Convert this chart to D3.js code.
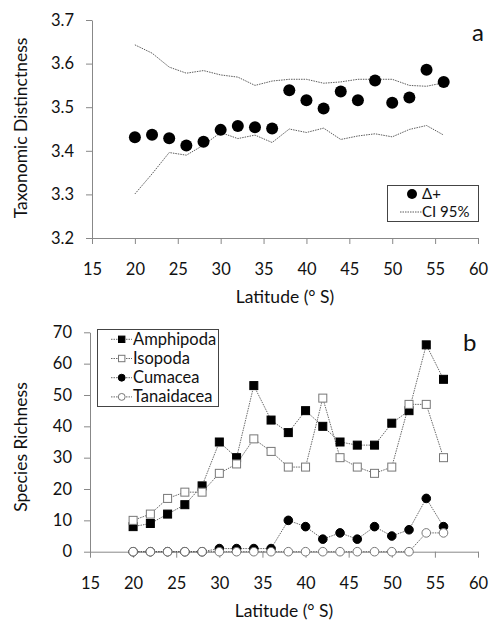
<!DOCTYPE html>
<html>
<head>
<meta charset="utf-8">
<script src="https://cdn.jsdelivr.net/npm/d3@7"></script>
<style>
body { margin: 0; background: #fff; }
svg text { font-family: Lato, "Open Sans", sans-serif; fill: #111; }
.axis path, .axis line { stroke: #888; }
</style>
</head>
<body>
<script>
// latitudes sampled
var lat = [20, 22, 24, 26, 28, 30, 32, 34, 36, 38, 40, 42, 44, 46, 48, 50, 52, 54, 56];

// panel a
var delta = [3.431, 3.437, 3.429, 3.412, 3.421, 3.448, 3.457, 3.454, 3.451, 3.539, 3.516, 3.497, 3.536, 3.516, 3.561, 3.510, 3.522, 3.586, 3.558];
var ciUpper = [3.643, 3.624, 3.592, 3.578, 3.584, 3.574, 3.569, 3.550, 3.560, 3.564, 3.564, 3.555, 3.558, 3.564, 3.564, 3.564, 3.550, 3.548, 3.556];
var ciLower = [3.301, 3.347, 3.396, 3.390, 3.413, 3.442, 3.428, 3.436, 3.419, 3.450, 3.442, 3.452, 3.426, 3.434, 3.439, 3.432, 3.449, 3.458, 3.436];

// panel b
var amphipoda = [8, 9, 12, 15, 21, 35, 30, 53, 42, 38, 45, 40, 35, 34, 34, 41, 45, 66, 55];
var isopoda = [10, 12, 17, 19, 19, 25, 28, 36, 32, 27, 27, 49, 30, 27, 25, 27, 47, 47, 30];
var cumacea = [0, 0, 0, 0, 0, 1, 1, 1, 1, 10, 8, 4, 6, 4, 8, 5, 7, 17, 8];
var tanaidacea = [0, 0, 0, 0, 0, 0, 0, 0, 0, 0, 0, 0, 0, 0, 0, 0, 0, 6, 6];

var xTicks = [15, 20, 25, 30, 35, 40, 45, 50, 55, 60];
var yTicksA = [3.2, 3.3, 3.4, 3.5, 3.6, 3.7];
var yTicksB = [0, 10, 20, 30, 40, 50, 60, 70];

var W = 491, H = 623;
var svg = d3.select("body").append("svg")
	.attr("width", W)
	.attr("height", H);

function zip(ys) {
	return lat.map(function(l, i) { return [l, ys[i]]; });
}

function drawAxes(g, x, y, yTicks, fmt, yTitle, titleY, labelY) {
	var xAxis = d3.axisBottom(x).tickValues(xTicks).tickSize(6).tickSizeOuter(0);
	var yAxis = d3.axisLeft(y).tickValues(yTicks).tickFormat(fmt).tickSize(6).tickSizeOuter(0);

	var gx = g.append("g").attr("class", "axis")
		.attr("transform", "translate(0," + y.range()[0] + ")")
		.call(xAxis);
	gx.selectAll("text").style("font-size", "16.5px").attr("y", 37).attr("dy", 0);

	var gy = g.append("g").attr("class", "axis")
		.attr("transform", "translate(" + x.range()[0] + ",0)")
		.call(yAxis);
	gy.selectAll("text").style("font-size", "16.5px").attr("x", -18);

	g.append("text")
		.attr("x", (x.range()[0] + x.range()[1]) / 2)
		.attr("y", labelY)
		.style("font-size", "17.5px")
		.style("text-anchor", "middle")
		.text("Latitude (° S)");

	g.append("text")
		.attr("transform", "translate(27," + titleY + ") rotate(-90)")
		.style("font-size", "17.5px")
		.style("text-anchor", "middle")
		.text(yTitle);
}

// ---------- panel a ----------
var xa = d3.scaleLinear().domain([15, 60]).range([92, 478]);
var ya = d3.scaleLinear().domain([3.2, 3.7]).range([238, 20]);
var ga = svg.append("g");
drawAxes(ga, xa, ya, yTicksA, d3.format(".1f"), "Taxonomic Distinctness", 128, 303);

var lineA = d3.line().x(function(d) { return xa(d[0]); }).y(function(d) { return ya(d[1]); });

[ciUpper, ciLower].forEach(function(s) {
	ga.append("path")
		.datum(zip(s))
		.attr("d", lineA)
		.attr("fill", "none")
		.attr("stroke", "#333")
		.attr("stroke-width", 0.8)
		.attr("stroke-dasharray", "1.5,1");
});

ga.selectAll(".dot")
	.data(zip(delta))
	.enter()
	.append("circle")
	.attr("class", "dot")
	.attr("cx", function(d) { return xa(d[0]); })
	.attr("cy", function(d) { return ya(d[1]); })
	.attr("r", 6)
	.style("fill", "#000");

ga.append("text").attr("x", 472).attr("y", 41).style("font-size", "24px").text("a");

// legend a
var la = ga.append("g");
la.append("rect").attr("x", 387.5).attr("y", 185.5).attr("width", 91).attr("height", 36)
	.attr("fill", "#fff").attr("stroke", "#444").attr("stroke-width", 1);
la.append("circle").attr("cx", 412).attr("cy", 194).attr("r", 5).style("fill", "#000");
la.append("text").attr("x", 422).attr("y", 199).style("font-size", "15px").text("Δ+");
la.append("line").attr("x1", 400).attr("x2", 422).attr("y1", 212).attr("y2", 212)
	.attr("stroke", "#333").attr("stroke-width", 0.8).attr("stroke-dasharray", "1.5,1");
la.append("text").attr("x", 422).attr("y", 217).style("font-size", "15px").text("CI 95%");

// ---------- panel b ----------
var xb = d3.scaleLinear().domain([15, 60]).range([90, 478]);
var yb = d3.scaleLinear().domain([0, 70]).range([551.7, 332.3]);
var gb = svg.append("g");
drawAxes(gb, xb, yb, yTicksB, d3.format("d"), "Species Richness", 447, 617);

var lineB = d3.line().x(function(d) { return xb(d[0]); }).y(function(d) { return yb(d[1]); });

var series = [
	{name: "Amphipoda", values: amphipoda, shape: "square", fill: "#000"},
	{name: "Isopoda", values: isopoda, shape: "square", fill: "#fff"},
	{name: "Cumacea", values: cumacea, shape: "circle", fill: "#000"},
	{name: "Tanaidacea", values: tanaidacea, shape: "circle", fill: "#fff"}
];

function marker(sel, s, k) {
	if (s.shape == "square") {
		sel.append("rect")
			.attr("x", -4 * k).attr("y", -4 * k).attr("width", 8 * k).attr("height", 8 * k)
			.attr("fill", s.fill).attr("stroke", s.fill == "#000" ? "#000" : "#777").attr("stroke-width", 1);
	} else {
		sel.append("circle")
			.attr("r", 4.3 * k)
			.attr("fill", s.fill).attr("stroke", s.fill == "#000" ? "#000" : "#777").attr("stroke-width", 1);
	}
}

series.forEach(function(s) {
	gb.append("path")
		.datum(zip(s.values))
		.attr("d", lineB)
		.attr("fill", "none")
		.attr("stroke", "#444")
		.attr("stroke-width", 0.8)
		.attr("stroke-dasharray", "1.5,1");
});

series.forEach(function(s) {
	gb.selectAll(".m-" + s.name)
		.data(zip(s.values))
		.enter()
		.append("g")
		.attr("class", "m-" + s.name)
		.attr("transform", function(d) { return "translate(" + xb(d[0]) + "," + yb(d[1]) + ")"; })
		.each(function() { marker(d3.select(this), s, 1); });
});

gb.append("text").attr("x", 463).attr("y", 351).style("font-size", "24px").text("b");

// legend b
var lb = gb.append("g");
lb.append("rect").attr("x", 97.5).attr("y", 329.5).attr("width", 121).attr("height", 77)
	.attr("fill", "#fff").attr("stroke", "#444").attr("stroke-width", 1);
series.forEach(function(s, i) {
	var yy = 339.3 + i * 19.2;
	lb.append("line").attr("x1", 111).attr("x2", 132).attr("y1", yy).attr("y2", yy)
		.attr("stroke", "#444").attr("stroke-width", 0.8).attr("stroke-dasharray", "1.5,1");
	marker(lb.append("g").attr("transform", "translate(121.7," + yy + ")"), s, 0.8);
	lb.append("text").attr("x", 133).attr("y", yy + 5.5).style("font-size", "16.5px").text(s.name);
});
</script>
</body>
</html>
